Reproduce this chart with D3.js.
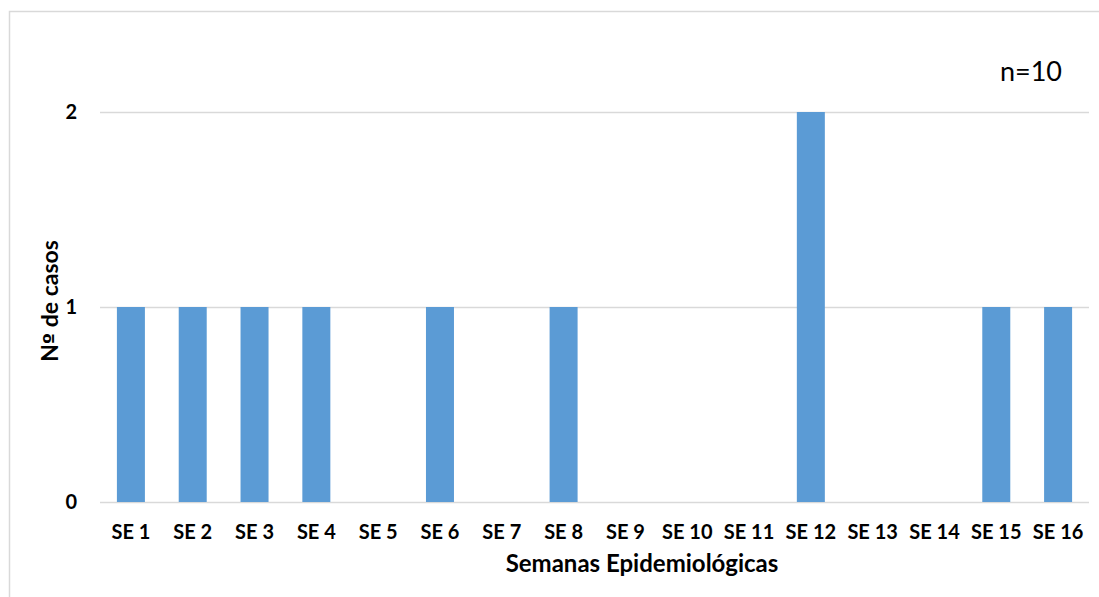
<!DOCTYPE html>
<html>
<head>
<meta charset="utf-8">
<script src="https://cdn.jsdelivr.net/npm/d3@7"></script>
<style>
  html, body { margin: 0; padding: 0; background: #fff; }
  svg { display: block; }
  text { font-family: Lato, "Open Sans", sans-serif; fill: #000; }
</style>
</head>
<body>
<svg id="chart" width="1099" height="597"></svg>
<script>
// Casos por semana epidemiológica
const semanas = ["SE 1","SE 2","SE 3","SE 4","SE 5","SE 6","SE 7","SE 8",
                 "SE 9","SE 10","SE 11","SE 12","SE 13","SE 14","SE 15","SE 16"];
const casos = [1,1,1,1,0,1,0,1,0,0,0,2,0,0,1,1];
const yTicks = [0,1,2];
const totalLabel = "n=10";
const yTitleParts = ["N", "º", " de casos"];
const xTitle = "Semanas Epidemiológicas";

const svg = d3.select("#chart");

// chart frame
svg.append("rect")
  .attr("x", 9.5).attr("y", 11.5)
  .attr("width", 1200).attr("height", 700)
  .attr("fill", "none").attr("stroke", "#d9d9d9").attr("stroke-width", 1.5);

const x = d3.scaleBand()
  .domain(semanas)
  .range([100, 1089])
  .paddingInner(0.547)
  .paddingOuter(0.2735);

const y = d3.scaleLinear().domain([0, 2]).range([502, 112]);

// gridlines
svg.append("g").selectAll("line")
  .data(yTicks)
  .join("line")
  .attr("x1", 100).attr("x2", 1089)
  .attr("y1", d => Math.round(y(d)) + 0.5).attr("y2", d => Math.round(y(d)) + 0.5)
  .attr("stroke", "#d9d9d9").attr("stroke-width", 1.5);

// bars
svg.append("g").selectAll("rect")
  .data(casos)
  .join("rect")
  .attr("x", (d, i) => x(semanas[i]))
  .attr("width", x.bandwidth())
  .attr("y", d => y(d))
  .attr("height", d => y(0) - y(d))
  .attr("fill", "#5b9bd5");

// y axis
const yAxis = svg.append("g")
  .attr("transform", "translate(100,0)")
  .call(d3.axisLeft(y).tickValues(yTicks).tickFormat(d3.format("d")).tickSize(0).tickPadding(23));
yAxis.select(".domain").remove();
yAxis.selectAll("text")
  .style("font-family", "Lato, sans-serif")
  .style("font-size", "20px").style("font-weight", "bold").attr("fill", "#000");

// x axis
const xAxis = svg.append("g")
  .attr("transform", "translate(0,502)")
  .call(d3.axisBottom(x).tickSize(0).tickPadding(23));
xAxis.select(".domain").remove();
xAxis.selectAll("text")
  .style("font-family", "Lato, sans-serif")
  .style("font-size", "20px").style("font-weight", "bold").attr("fill", "#000");

// axis titles
const yt = svg.append("text")
  .attr("transform", "translate(58,301) rotate(-90)")
  .attr("text-anchor", "middle")
  .style("font-size", "23px").style("font-weight", "bold");
yt.selectAll("tspan")
  .data(yTitleParts)
  .join("tspan")
  .style("font-family", d => d === "º" ? "'DejaVu Sans', sans-serif" : null)
  .style("font-size", d => d === "º" ? "20px" : null)
  .text(d => d);

svg.append("text")
  .attr("x", 642).attr("y", 572)
  .attr("text-anchor", "middle")
  .style("font-size", "24px").style("font-weight", "bold")
  .text(xTitle);

svg.append("text")
  .attr("x", 1062).attr("y", 81)
  .attr("text-anchor", "end")
  .style("font-size", "27px")
  .text(totalLabel);
</script>
</body>
</html>
